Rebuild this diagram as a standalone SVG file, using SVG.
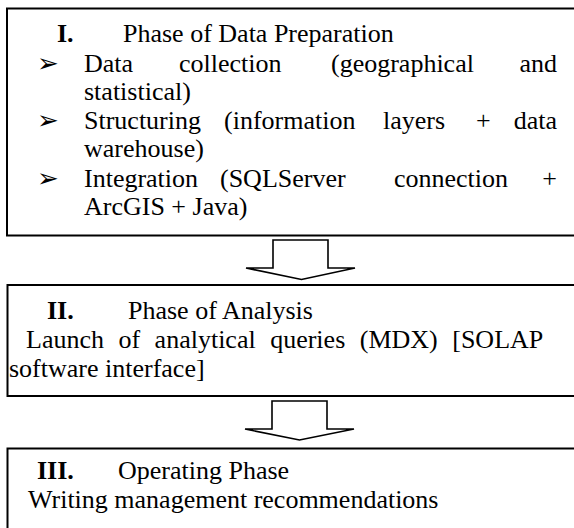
<svg xmlns="http://www.w3.org/2000/svg" width="574" height="528" viewBox="0 0 574 528">
<style>
.box{fill:#fff;stroke:#000;stroke-width:2}
.arr{fill:#fff;stroke:#000;stroke-width:1.6;stroke-linejoin:miter}
text{font-family:"Liberation Serif","Times New Roman",serif;font-size:26px;fill:#000}
.b{font-weight:bold}
.e{text-anchor:end}
</style>
<rect width="574" height="528" fill="#fff"/>
<g id="connectors">
<polygon class="arr" points="273,240 328,240 328,268 355,268 301.5,279.5 246,268 273,268"/>
<polygon class="arr" points="272,401 327,401 327,429 354,429 299.5,440 245,429 272,429"/>
</g>
<g id="phase1">
<rect class="box" x="7" y="8.5" width="570" height="227"/>
<text class="b" x="57" y="42">I.</text>
<text x="123" y="42">Phase of Data Preparation</text>
<text x="37" y="72">➢</text>
<text x="84" y="72">Data</text><text x="179" y="72">collection</text><text x="331" y="72">(geographical</text><text class="e" x="557" y="72">and</text>
<text x="84" y="100">statistical)</text>
<text x="37" y="129">➢</text>
<text x="84" y="129">Structuring</text><text x="224" y="129">(information</text><text x="383" y="129">layers</text><text x="476" y="129">+</text><text class="e" x="557" y="129">data</text>
<text x="84" y="157">warehouse)</text>
<text x="37" y="187">➢</text>
<text x="84" y="187">Integration</text><text x="220" y="187">(SQLServer</text><text x="394" y="187">connection</text><text class="e" x="557" y="187">+</text>
<text x="84" y="215">ArcGIS + Java)</text>
</g>
<g id="phase2">
<rect class="box" x="7.5" y="285" width="570" height="111"/>
<text class="b" x="47" y="319">II.</text>
<text x="128" y="319">Phase of Analysis</text>
<text x="26" y="348" word-spacing="8">Launch of analytical queries (MDX) [SOLAP</text>
<text x="9" y="377">software interface]</text>
</g>
<g id="phase3">
<rect class="box" x="7.5" y="448.5" width="570" height="90"/>
<text class="b" x="37" y="479">III.</text>
<text x="118" y="479">Operating Phase</text>
<text x="28" y="508">Writing management recommendations</text>
</g>
</svg>
